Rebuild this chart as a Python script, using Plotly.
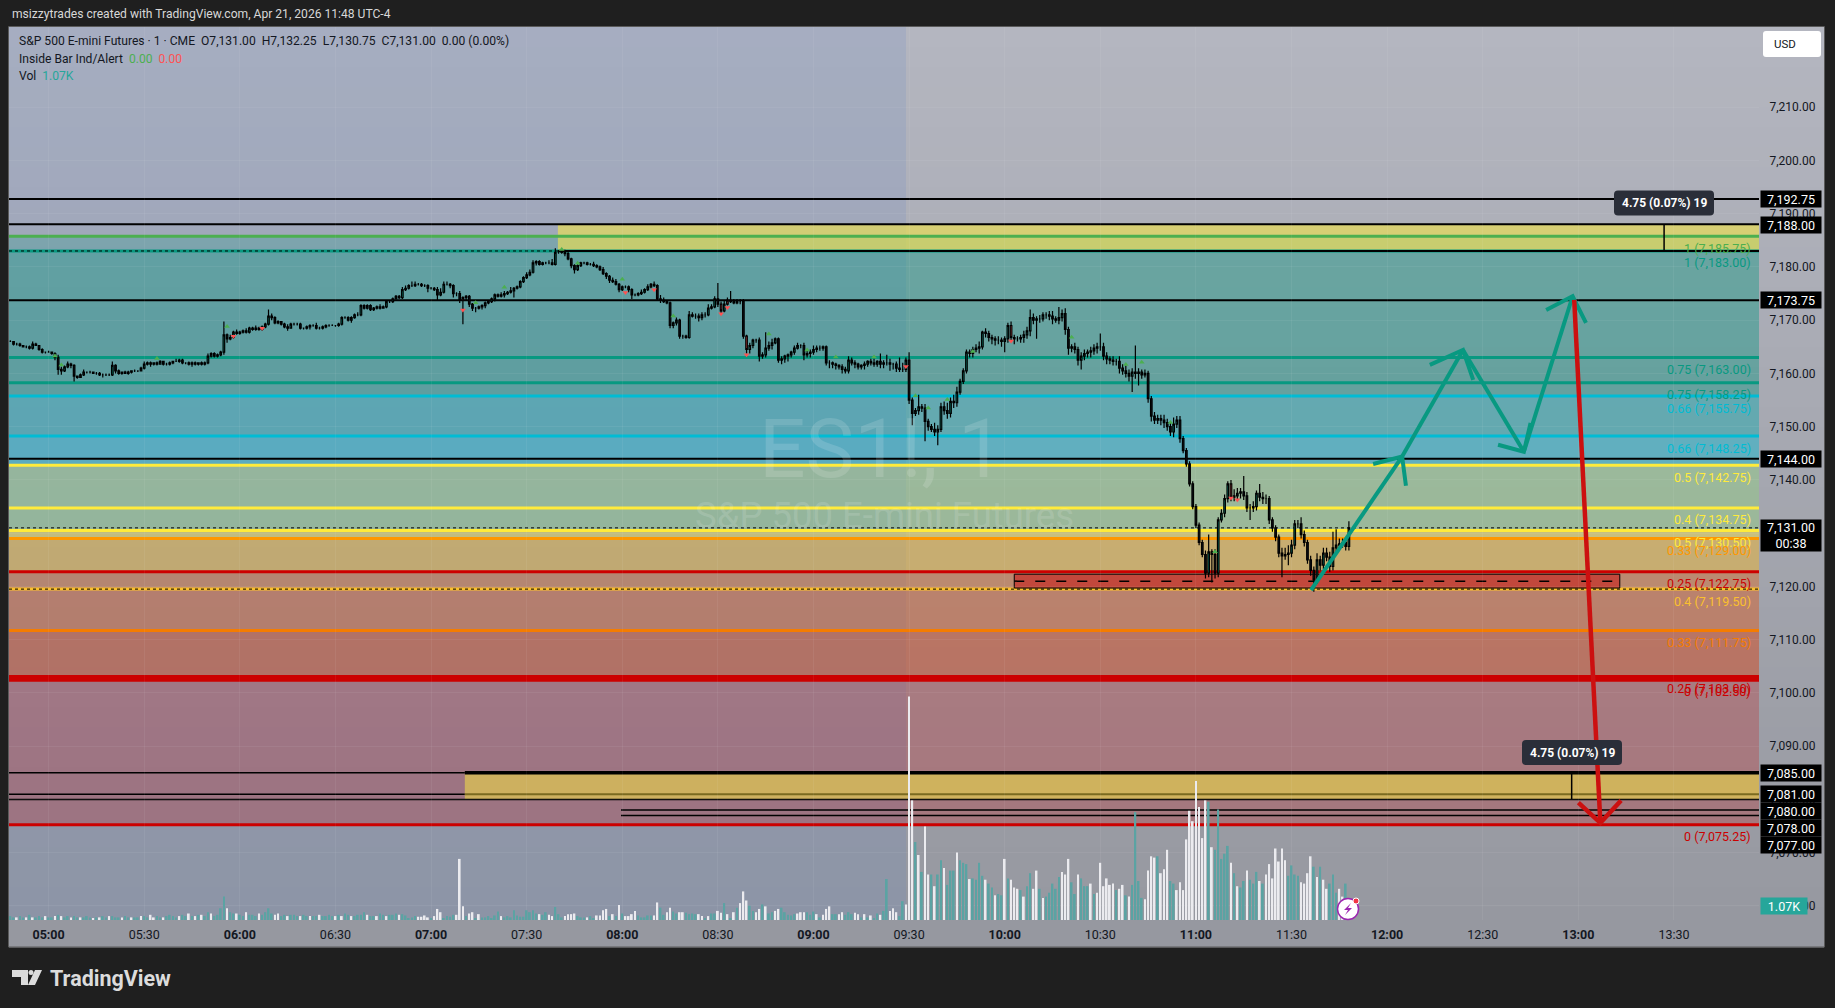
import plotly.graph_objects as go

W = 1835
H = 1008
FONT = "Roboto"
INK = "#131722"

# one bar per minute, first bar is 04:48, prices stored as price - 7100
FIRST_MINUTE = 288
closes_7100 = [
    66.0, 65.5, 65.5, 65.25, 65.0, 65.0, 64.75, 65.5, 65.25, 64.5,
    64.0, 64.0, 64.0, 63.75, 63.0, 60.75, 60.5, 61.25, 61.75, 61.5,
    59.5, 59.25, 59.75, 60.25, 60.25, 60.25, 60.0, 60.0, 59.75, 59.75,
    59.75, 59.75, 61.5, 60.5, 60.0, 60.25, 60.0, 60.25, 60.5, 60.5,
    60.5, 61.0, 61.75, 62.0, 61.75, 62.0, 61.75, 62.25, 61.75, 61.75,
    62.0, 62.25, 62.25, 62.5, 62.0, 62.0, 61.75, 62.0, 61.75, 62.0,
    61.75, 62.0, 63.25, 63.75, 63.25, 63.5, 64.0, 67.25, 66.5, 66.75,
    67.75, 67.5, 67.75, 68.0, 67.75, 68.5, 68.25, 68.5, 68.25, 68.75,
    69.25, 70.75, 70.5, 69.5, 69.75, 69.25, 68.75, 68.5, 69.25, 69.25,
    69.25, 68.5, 68.5, 68.75, 69.0, 69.0, 68.5, 68.5, 68.75, 69.0,
    69.0, 69.0, 69.0, 69.25, 70.5, 70.5, 70.0, 70.5, 71.0, 71.0,
    72.75, 72.25, 72.75, 72.0, 72.25, 72.5, 72.25, 72.5, 73.5, 73.5,
    74.0, 74.5, 74.25, 75.75, 76.0, 76.5, 76.5, 76.75, 76.75, 76.5,
    76.5, 76.0, 76.0, 75.75, 74.75, 75.25, 76.75, 76.75, 76.5, 75.0,
    75.0, 73.75, 74.25, 74.5, 73.0, 72.25, 72.25, 72.5, 72.75, 73.25,
    73.5, 74.0, 74.75, 74.5, 74.75, 75.0, 75.25, 75.5, 76.0, 76.25,
    77.25, 78.0, 78.5, 79.0, 80.75, 81.0, 80.5, 80.75, 80.75, 80.75,
    80.5, 82.75, 82.75, 83.0, 82.5, 81.5, 80.25, 79.5, 80.25, 80.75,
    80.75, 80.5, 80.5, 80.25, 80.0, 79.5, 78.75, 78.25, 77.5, 77.25,
    76.75, 75.75, 76.25, 76.25, 75.75, 74.75, 74.75, 75.0, 75.25, 75.75,
    76.25, 76.75, 76.5, 74.0, 73.75, 73.5, 73.25, 69.0, 69.5, 70.0,
    67.0, 67.0, 66.75, 71.0, 70.75, 70.75, 70.5, 71.0, 71.0, 72.25,
    72.5, 74.0, 73.0, 71.75, 73.0, 73.75, 73.5, 73.25, 73.5, 73.5,
    67.0, 64.5, 65.25, 66.25, 66.25, 63.25, 63.5, 64.75, 65.25, 65.75,
    66.5, 62.5, 62.75, 63.25, 63.5, 64.0, 64.75, 65.25, 65.25, 63.5,
    63.75, 64.0, 64.5, 64.75, 64.75, 65.0, 62.0, 62.0, 61.75, 61.5,
    61.25, 60.75, 60.5, 62.5, 62.0, 61.75, 61.25, 61.5, 61.75, 62.25,
    62.0, 61.75, 62.25, 61.75, 62.0, 62.0, 61.75, 61.75, 61.0, 60.75,
    60.75, 62.5, 55.0, 52.5, 53.0, 53.75, 53.5, 51.0, 50.0, 49.5,
    49.0, 49.5, 53.75, 53.0, 52.5, 54.75, 54.5, 56.5, 58.5, 60.5,
    64.0, 63.75, 64.5, 64.75, 65.0, 67.75, 67.5, 66.75, 66.5, 66.25,
    66.25, 66.0, 66.5, 69.0, 66.75, 66.5, 66.5, 66.75, 67.25, 68.0,
    70.5, 70.0, 70.25, 70.25, 71.0, 71.0, 70.75, 70.25, 70.0, 70.5,
    71.25, 68.25, 64.75, 65.0, 64.5, 62.5, 63.25, 63.75, 64.0, 64.25,
    64.75, 65.0, 65.0, 63.25, 62.75, 62.5, 62.25, 62.25, 61.0, 60.5,
    60.0, 59.5, 60.25, 60.0, 60.25, 59.75, 60.0, 55.25, 52.0, 51.25,
    51.5, 51.25, 50.75, 50.0, 49.0, 50.5, 51.25, 47.75, 45.5, 43.0,
    39.25, 35.0, 31.5, 28.25, 26.0, 22.5, 26.5, 26.0, 22.5, 32.5,
    33.75, 36.5, 39.25, 36.75, 37.0, 37.5, 37.75, 37.0, 34.75, 34.75,
    35.0, 37.5, 36.75, 36.5, 36.5, 32.5, 31.0, 29.25, 26.25, 25.75,
    26.0, 26.25, 27.75, 31.75, 31.75, 29.75, 28.25, 25.0, 23.0, 21.25,
    25.0, 24.0, 26.25, 25.5, 23.75, 27.25, 27.75, 28.0, 28.25, 27.5, 31.0,
]
# wick lengths above and below the body, in ticks of 0.25
upper_ticks = [
    1, 0, 1, 1, 0, 1, 1, 2, 1, 0, 1, 0, 1, 0, 1, 2, 2, 1, 2, 1,
    1, 0, 1, 2, 0, 1, 0, 1, 1, 1, 1, 1, 3, 1, 1, 0, 1, 1, 0, 1,
    0, 1, 2, 1, 1, 0, 1, 1, 0, 1, 1, 0, 2, 1, 1, 0, 1, 1, 1, 0,
    1, 1, 2, 1, 1, 1, 1, 10, 1, 2, 1, 2, 1, 1, 2, 1, 1, 2, 1, 1,
    1, 5, 2, 1, 1, 0, 1, 2, 1, 1, 1, 1, 0, 1, 1, 1, 2, 1, 1, 1,
    1, 1, 0, 1, 1, 1, 1, 1, 1, 2, 1, 1, 1, 1, 1, 1, 2, 1, 1, 1,
    1, 1, 1, 2, 2, 1, 3, 2, 1, 1, 1, 1, 1, 1, 2, 3, 2, 2, 1, 1,
    1, 2, 1, 1, 1, 1, 1, 1, 1, 1, 1, 1, 1, 1, 2, 2, 1, 3, 1, 1,
    1, 1, 2, 2, 2, 1, 1, 1, 1, 2, 3, 3, 1, 1, 1, 2, 1, 1, 1, 1,
    1, 1, 1, 2, 1, 1, 2, 1, 1, 2, 2, 1, 1, 1, 1, 1, 1, 1, 2, 1,
    2, 1, 2, 1, 3, 2, 1, 1, 1, 2, 1, 1, 1, 3, 2, 2, 2, 2, 2, 3,
    2, 2, 12, 2, 3, 2, 7, 2, 2, 2, 2, 1, 2, 1, 1, 2, 2, 12, 3, 3,
    1, 1, 2, 1, 1, 1, 2, 2, 1, 2, 2, 2, 3, 2, 2, 1, 1, 2, 1, 1,
    1, 2, 2, 3, 2, 2, 1, 1, 2, 1, 2, 3, 1, 6, 2, 6, 3, 1, 2, 8,
    5, 2, 6, 2, 2, 9, 2, 3, 2, 2, 5, 3, 3, 4, 6, 3, 5, 4, 2, 2,
    2, 2, 2, 3, 4, 1, 3, 2, 2, 2, 3, 2, 2, 2, 3, 2, 2, 2, 3, 3,
    6, 3, 2, 3, 2, 2, 3, 4, 2, 8, 3, 4, 2, 2, 3, 2, 3, 3, 2, 3,
    3, 3, 10, 3, 3, 2, 3, 2, 4, 3, 4, 3, 3, 20, 3, 2, 3, 2, 2, 3,
    3, 3, 4, 3, 3, 5, 3, 3, 2, 2, 2, 2, 2, 2, 2, 3, 13, 2, 4, 2,
    3, 3, 2, 3, 5, 4, 3, 12, 3, 3, 4, 2, 7, 4, 3, 2, 2, 2, 2, 4,
    5, 6, 4, 3, 3, 5, 3, 2, 3, 3, 5, 3, 4, 4, 4, 12, 12, 4, 3, 3, 5,
]
lower_ticks = [
    0, 1, 1, 1, 0, 1, 1, 1, 0, 1, 1, 1, 0, 1, 2, 4, 3, 1, 1, 2,
    4, 1, 0, 1, 1, 1, 0, 1, 1, 2, 1, 1, 1, 2, 1, 1, 0, 1, 1, 1,
    1, 0, 1, 1, 2, 1, 1, 0, 1, 1, 1, 1, 0, 1, 1, 1, 1, 2, 1, 1,
    1, 1, 1, 1, 1, 1, 1, 2, 3, 1, 1, 1, 1, 1, 1, 1, 1, 1, 1, 1,
    1, 1, 2, 1, 1, 1, 1, 2, 0, 1, 1, 1, 1, 1, 2, 1, 1, 1, 1, 1,
    1, 0, 1, 1, 1, 1, 1, 2, 1, 1, 1, 1, 1, 1, 1, 1, 1, 0, 1, 1,
    1, 0, 1, 1, 1, 1, 1, 1, 1, 1, 1, 3, 1, 1, 4, 1, 1, 1, 2, 3,
    2, 2, 18, 2, 2, 2, 3, 1, 2, 2, 1, 1, 2, 1, 1, 2, 1, 1, 5, 1,
    1, 1, 1, 1, 1, 2, 1, 1, 1, 1, 1, 1, 1, 1, 2, 1, 2, 3, 1, 1,
    1, 1, 1, 1, 1, 1, 1, 2, 2, 1, 1, 2, 1, 1, 2, 3, 1, 1, 1, 1,
    1, 1, 1, 1, 2, 1, 1, 2, 2, 2, 2, 2, 1, 1, 1, 2, 3, 2, 2, 1,
    1, 1, 2, 2, 1, 1, 1, 1, 1, 2, 2, 3, 3, 2, 2, 4, 2, 2, 2, 3,
    1, 2, 3, 3, 4, 2, 2, 1, 2, 4, 2, 3, 2, 2, 2, 2, 2, 4, 3, 3,
    2, 3, 2, 2, 2, 3, 2, 2, 3, 2, 2, 2, 2, 3, 3, 2, 5, 4, 3, 2,
    2, 2, 3, 9, 2, 3, 3, 15, 3, 2, 3, 10, 2, 3, 4, 3, 4, 3, 2, 2,
    2, 3, 3, 2, 4, 2, 3, 3, 4, 4, 3, 4, 8, 3, 3, 4, 2, 3, 4, 3,
    4, 3, 14, 3, 2, 3, 3, 4, 2, 3, 3, 4, 5, 3, 3, 4, 7, 3, 3, 4,
    3, 4, 3, 3, 4, 3, 3, 3, 4, 3, 3, 4, 12, 4, 9, 3, 2, 3, 4, 3,
    3, 4, 4, 3, 3, 4, 3, 3, 2, 2, 2, 2, 2, 2, 2, 4, 3, 21, 4, 3,
    2, 3, 3, 3, 3, 3, 4, 3, 3, 9, 3, 3, 3, 4, 4, 3, 3, 3, 3, 16,
    3, 8, 3, 3, 3, 3, 3, 3, 4, 9, 3, 4, 3, 3, 4, 3, 3, 4, 3, 3, 3,
]
# volume in thousands, one per bar
volume_k = [
    .3, .2, .2, .3, .2, .2, .4, .2, .2, .3,
    .2, .3, .2, .2, .3, .4, .3, .2, .3, .2,
    .3, .2, .2, .2, .3, .2, .1, .2, .2, .3,
    .2, .3, .3, .2, .2, .2, .3, .2, .2, .2,
    .2, .3, .3, .2, .4, .2, .3, .2, .2, .3,
    .4, .3, .2, .3, .4, .3, .5, .3, .3, .4,
    .4, .3, .6, .5, .3, .4, .9, 1.8, .9, .6,
    .5, .5, .4, .3, .6, .4, .4, .3, .5, .4,
    .6, .9, .5, .4, .5, .3, .4, .3, .4, .4,
    .3, .3, .4, .3, .3, .3, .3, .4, .3, .3,
    .4, .3, .3, .4, .3, .5, .4, .3, .3, .4,
    .4, .6, .4, .3, .3, .3, .5, .4, .3, .4,
    .4, .5, .4, .45, .35, .15, .2, .3, .25, .25,
    .35, .2, .1, .3, .85, .6, .1, .3, .25, .4,
    .4, 4.7, 1.05, .3, .5, .6, .1, .45, .2, .2,
    .3, .1, .35, .65, .3, .2, .3, .2, .75, .35,
    .25, .25, .75, .6, .75, .5, .45, .4, .6, .4,
    .3, 1.0, .45, .2, .3, .45, .45, .5, .3, .2,
    .2, .2, .3, .15, .35, .35, .75, .85, .3, .45,
    .3, 1.15, .5, .3, .3, .45, .7, .35, .2, .2,
    .35, .35, .35, 1.35, .95, .4, .6, .95, .65, .5,
    .6, .6, .55, .45, .5, .45, .45, .3, .1, .3,
    .5, .5, .7, .55, 1.3, .45, .15, .6, .95, 1.3,
    2.2, 1.5, 1.1, .7, .6, .85, 1.2, 1.05, .5, .6,
    .7, .85, .95, .6, .4, .35, .45, .5, .6, .6,
    .6, .4, .65, .45, .2, .4, .85, 1.05, .45, .45,
    .45, .6, .4, .6, .45, .55, .45, .2, .45, .2,
    .35, .1, .5, .4, .7, 3.15, .7, .9, .6, .3,
    1.45, 1.2, 17.2, 9.2, 6.0, 5.0, 3.7, 7.2, 3.5, 3.5,
    2.6, 3.5, 4.6, 4.0, 2.7, 3.8, 3.8, 5.2, 4.6, 4.4,
    4.3, 3.15, 3.2, 3.1, 4.4, 3.4, 3.1, 2.8, 2.5, 1.9,
    2.0, 1.9, 4.7, 3.2, 3.1, 2.5, 2.4, 2.3, 1.8, 2.6,
    3.6, 2.4, 3.8, 2.4, 1.7, 1.8, 2.1, 2.8, 2.4, 3.3,
    3.7, 3.5, 4.7, 2.9, 2.0, 3.5, 3.2, 2.6, 2.6, 2.8,
    2.0, 2.1, 4.4, 2.6, 3.2, 2.7, 2.8, 2.3, 2.4, 2.7,
    1.9, 1.8, 2.7, 8.3, 3.0, 1.7, 1.6, 3.8, 4.9, 4.8,
    4.9, 3.6, 3.9, 5.4, 3.0, 2.8, 2.3, 2.9, 2.3, 6.2,
    8.4, 7.6, 10.7, 8.7, 6.3, 9.2, 9.1, 5.6, 5.4, 8.5,
    4.7, 5.1, 5.7, 4.4, 3.6, 2.6, 2.5, 3.0, 3.8, 3.1,
    2.8, 3.7, 3.0, 2.8, 3.5, 4.3, 3.2, 5.5, 4.5, 5.5,
    4.6, 3.4, 4.2, 3.5, 3.4, 2.9, 2.8, 3.6, 4.9, 4.1,
    3.3, 4.1, 3.1, 2.4, 2.8, 3.5, 2.1, 2.4, 1.8, 2.8, 1.07,
]
# t = up (teal), w = down (white), ten bars per chunk
volume_dirs = (
    "ttwttwtwtt" "twttwtwttw" "ttwtttwtwt" "twtttwttwt" "twttwwttwt"
    "tttwttwtwt" "wttwttttwt" "twttwtttwt" "tttwwttwtt" "twttwttwtt"
    "ttwtwttwtt" "ttwttwttwt" "ttwtttttww" "wwtwwwtttt" "wwwtwwtwtt"
    "ttttwttttt" "ttttttwttw" "wtttwwwwtt" "twttwwwwtw" "twtwwwwttt"
    "ttwwttwwtt" "wwttttwwtw" "ttwwtwtwtw" "wwttwwtwtt" "wwtttttwww"
    "tttwtwwwtt" "wwtttwwtwt" "wttwttwwwt" "twwwtwtwwt" "wttwtttwtt"
    "twttttwttw" "ttwtwwwtwt" "twwtwttttt" "wwwttwtttw" "twwwwwwtww"
    "twttttwwww" "twwwttwwww" "wwwwwwtwtt" "tttwtwttwt" "ttwtwwwwww"
    "wttttwwwwt" "wtwwtttwwtt"
)
red_bars = [142, 202, 223, 225, 231, 314, 383]

green_marks_t = [302, 304, 334, 356, 434, 443, 461, 466, 480, 496, 526, 538, 547, 559, 572, 576, 582, 590, 621, 638, 643, 652, 666]
green_marks_p = [7163.3, 7161.6, 7162.8, 7168.8, 7173.3, 7176.2, 7183.3, 7180.7, 7177.7, 7170.8, 7167.4, 7164.4, 7163.1, 7163.1, 7155.8, 7153.5, 7155.1, 7164.1, 7166.8, 7161.7, 7162.1, 7150.8, 7126.5]
red_marks_t = [358, 367, 430, 481, 490, 511, 513, 519, 569, 602, 671, 673]
red_marks_p = [7167, 7168.5, 7171.9, 7175.2, 7175.7, 7171.2, 7172.4, 7163.5, 7161.3, 7166.1, 7136.6, 7136.3]

TEAL, CYAN, YELLOW, AMBER, ORANGE, DORANGE, RED = "#089981", "#00bcd4", "#ffeb3b", "#fbc02d", "#ff9800", "#f57c00", "#cc0000"
# two fib tools: level text, price, line colour, fill colour down to the next level
fib_ratios = ["1", "0.75", "0.66", "0.5", "0.4", "0.33", "0.25", "0"]
fib_a_prices = [7185.75, 7158.25, 7148.25, 7130.50, 7119.50, 7111.75, 7103.00, 7075.25]
fib_a_colors = ["#4caf50", TEAL, CYAN, YELLOW, AMBER, DORANGE, RED, RED]
fib_a_fills = [TEAL, TEAL, CYAN, YELLOW, AMBER, DORANGE, RED]
fib_b_prices = [7183.00, 7163.00, 7155.75, 7142.75, 7134.75, 7129.00, 7122.75, 7102.50]
fib_b_colors = [TEAL, TEAL, CYAN, YELLOW, YELLOW, ORANGE, RED, RED]
fib_b_fills = [TEAL, TEAL, CYAN, YELLOW, YELLOW, ORANGE, RED]

black_levels = [7192.75, 7173.75, 7144.00]
tick_prices = [7210, 7200, 7190, 7180, 7170, 7160, 7150, 7140, 7130, 7120, 7110, 7100, 7090, 7080, 7070, 7060]
tick_minutes = [300, 330, 360, 390, 420, 450, 480, 510, 540, 570, 600, 630, 660, 690, 720, 750, 780, 810]
tick_labels = ["05:00", "05:30", "06:00", "06:30", "07:00", "07:30", "08:00", "08:30", "09:00", "09:30", "10:00", "10:30", "11:00", "11:30", "12:00", "12:30", "13:00", "13:30"]

# hand drawn arrows, (minute, price) of shaft and barbs
teal_arrow_t = [696.1, 724.7, None, 715.6, 724.7, 725.9, None, 724.7, 743.8, None, 733.4, 743.8, 747, None, 743.8, 762.9, None, 754.8, 762.9, 765, None, 762.9, 778.2, None, 769.9, 778.2, 782.4]
teal_arrow_p = [7119.3, 7144.4, None, 7143, 7144.4, 7138.9, None, 7144.4, 7164.4, None, 7161.6, 7164.4, 7158.8, None, 7164.4, 7145.3, None, 7146.6, 7145.3, 7150.7, None, 7145.3, 7174.5, None, 7171.9, 7174.5, 7169.5]
red_arrow_t = [778.7, 786.9, None, 780, 786.9, 793.4]
red_arrow_p = [7173.8, 7075.6, None, 7079.4, 7075.6, 7079.8]

# pane geometry in page pixels
PANE_L, PANE_R, PANE_T, PANE_B = 9, 1759, 27, 920
X0 = 300 + (PANE_L - 48.6) / 3.187
X1 = 300 + (PANE_R - 48.6) / 3.187
Y_TOP = 7210 + (107.2 - PANE_T) / 5.325
Y_BOT = 7210 - (PANE_B - 107.2) / 5.325
VOL_TOP = (PANE_B - PANE_T) / 13.0
TEXT_RIGHT = 1753
TOP_BOX_START = 459.8
LOW_BOX_START = 430.6
PAIR_START = 479.6
SUPPORT_START, SUPPORT_END = 603, 793


def px(x):
    return x / W


def py(y):
    return 1 - y / H


def rounded(x0, y0, x1, y1, r):
    x0, x1 = px(x0), px(x1)
    rx, ry = r / W, r / H
    y0, y1 = py(y0), py(y1)
    return (f"M{x0 + rx},{y0} L{x1 - rx},{y0} Q{x1},{y0} {x1},{y0 - ry} L{x1},{y1 + ry} Q{x1},{y1} {x1 - rx},{y1} "
            f"L{x0 + rx},{y1} Q{x0},{y1} {x0},{y1 + ry} L{x0},{y0 - ry} Q{x0},{y0} {x0 + rx},{y0} Z")


def polygon(points):
    return "M" + " L".join(f"{px(x)},{py(y)}" for x, y in points) + " Z"


def rgba(hex_color, a):
    return f"rgba({int(hex_color[1:3], 16)},{int(hex_color[3:5], 16)},{int(hex_color[5:7], 16)},{a})"


def label(x, y, text, size=12.1, color=INK, xanchor="left", family=FONT, **kw):
    annotations.append(dict(xref="paper", yref="paper", x=px(x), y=py(y), xanchor=xanchor, yanchor="middle", text=text,
                            showarrow=False, font=dict(family=family, size=size, color=color), **kw))


minutes = [FIRST_MINUTE + i for i in range(len(closes_7100))]
closes = [7100 + c for c in closes_7100]
opens = [closes[0]] + closes[:-1]
highs = [max(o, c) + u * 0.25 for o, c, u in zip(opens, closes, upper_ticks)]
lows = [min(o, c) - d * 0.25 for o, c, d in zip(opens, closes, lower_ticks)]
assert len(closes) == len(upper_ticks) == len(lower_ticks) == len(volume_k) == len(volume_dirs)

shapes = []
annotations = []

# window gradient behind pane and both axis strips
N_SLICES = 46
for s in range(N_SLICES):
    t = s / (N_SLICES - 1)
    col = "rgb(%d,%d,%d)" % (180 - 30 * t, 182 - 30 * t, 192 - 32 * t)
    y0 = 27 + (947 - 27) * s / N_SLICES
    y1 = 27 + (947 - 27) * (s + 1) / N_SLICES
    shapes.append(dict(type="rect", xref="paper", yref="paper", x0=px(9), x1=px(1824), y0=py(y0), y1=py(y1 + 0.5),
                       fillcolor=col, line_width=0, layer="below"))
# pre-market tint
shapes.append(dict(type="rect", xref="paper", yref="paper", x0=px(PANE_L), x1=px(906), y0=py(PANE_T), y1=py(PANE_B),
                   fillcolor="rgba(90,130,200,0.15)", line_width=0, layer="below"))
shapes.append(dict(type="rect", xref="paper", yref="paper", x0=px(8.5), x1=px(1824.5), y0=py(26.5), y1=py(947),
                   line=dict(color="#5a5a5a", width=1), layer="below"))


def hline(price, color, width=3, dash="solid", start=X0, end=X1):
    shapes.append(dict(type="line", xref="x", yref="y", x0=start, x1=end, y0=price, y1=price,
                       line=dict(color=color, width=width, dash=dash), layer="below"))


def box(t0, t1, p0, p1, fill, edge=None):
    shapes.append(dict(type="rect", xref="x", yref="y", x0=t0, x1=t1, y0=p0, y1=p1, fillcolor=fill,
                       line=dict(color=edge or "rgba(0,0,0,0)", width=1), layer="below"))


for prices, fills in ((fib_a_prices, fib_a_fills), (fib_b_prices, fib_b_fills)):
    for hi, lo, col in zip(prices[:-1], prices[1:], fills):
        box(X0, X1, lo, hi, rgba(col, 0.23))

box(LOW_BOX_START, X1, 7080.0, 7085.0, "rgba(225,203,80,0.7)")
box(TOP_BOX_START, X1, 7183.0, 7188.0, "rgba(240,228,75,0.62)")

for prices, colors in ((fib_a_prices, fib_a_colors), (fib_b_prices, fib_b_colors)):
    for price, col in zip(prices, colors):
        hline(price, col, 4 if price in (7103.00, 7102.50) else 3)
    for ratio, price, col in zip(fib_ratios, prices, colors):
        annotations.append(dict(xref="paper", yref="y", x=px(TEXT_RIGHT), y=price, yshift=-12, xanchor="right", yanchor="middle",
                                text=f"{ratio} ({price:,.2f})", showarrow=False,
                                font=dict(family=FONT, size=12.5, color=col)))

hline(7183.00, "#000000", 1, "dot")
hline(7119.50, "#000000", 1, "dot")
hline(7131.00, "#000000", 1, "dot")
for level in black_levels:
    hline(level, "#000000", 2)
hline(7188.00, "#000000", 2)
hline(7183.00, "#000000", 2, start=TOP_BOX_START)
hline(7085.00, "#000000", 1.5, end=LOW_BOX_START)
hline(7085.00, "#000000", 3.5, start=LOW_BOX_START)
hline(7081.00, "#000000", 1.5, end=LOW_BOX_START)
hline(7081.00, "#7a6a20", 2, start=LOW_BOX_START)
hline(7080.00, "#000000", 1.5)
hline(7078.00, "#000000", 1.5, start=PAIR_START)
hline(7077.00, "#000000", 1.5, start=PAIR_START)

# support box with dashed midline
box(SUPPORT_START, SUPPORT_END, 7119.7, 7122.3, "rgba(195,60,50,0.85)", "#000000")
hline(7121.0, "#000000", 1.5, "10px,11px", start=SUPPORT_START, end=SUPPORT_END)

# measure ticks
for t, p0, p1 in ((806.9, 7183, 7188), (777.9, 7080, 7085)):
    shapes.append(dict(type="line", xref="x", yref="y", x0=t, x1=t, y0=p0, y1=p1,
                       line=dict(color="#000000", width=1.5), layer="below"))

fig = go.Figure()
fig.add_trace(go.Scatter(x=teal_arrow_t, y=teal_arrow_p, mode="lines", line=dict(color=TEAL, width=4), hoverinfo="skip", showlegend=False))
fig.add_trace(go.Scatter(x=red_arrow_t, y=red_arrow_p, mode="lines", line=dict(color="#cc1010", width=4.5), hoverinfo="skip", showlegend=False))

keep = [i for i in range(len(minutes)) if i not in red_bars]
for idx, up_fill, down_fill in ((keep, TEAL, "#131722"), (red_bars, "#ff5252", "#ff5252")):
    fig.add_trace(go.Candlestick(
        x=[minutes[i] for i in idx],
        open=[opens[i] for i in idx],
        high=[highs[i] for i in idx],
        low=[lows[i] for i in idx],
        close=[closes[i] for i in idx],
        increasing=dict(fillcolor=up_fill, line=dict(color="#000000", width=1.2)),
        decreasing=dict(fillcolor=down_fill, line=dict(color="#000000", width=1.2)),
        whiskerwidth=0,
        hoverinfo="skip",
        showlegend=False,
    ))
fig.add_trace(go.Scatter(x=green_marks_t, y=green_marks_p, mode="markers", marker=dict(symbol="triangle-up", size=5, color="#4caf50"), hoverinfo="skip", showlegend=False))
fig.add_trace(go.Scatter(x=red_marks_t, y=red_marks_p, mode="markers", marker=dict(symbol="triangle-down", size=5, color="#ff5252"), hoverinfo="skip", showlegend=False))
fig.add_trace(go.Bar(
    x=minutes,
    y=volume_k,
    yaxis="y2",
    width=0.55,
    marker=dict(color=["#5ba3a3" if d == "t" else "#ebebef" for d in volume_dirs], line_width=0),
    hoverinfo="skip",
    showlegend=False,
))


def tag(y, text, height=16, width=60, bg="#000000", color="#ffffff"):
    annotations.append(dict(xref="paper", yref="paper", x=px(1760), y=py(y), xanchor="left", yanchor="middle",
                            width=width, height=height, bgcolor=bg, align="center", valign="middle", text=text,
                            showarrow=False, borderpad=0, font=dict(family=FONT, size=12.5, color=color)))


for y, text in ((199.5, "7,192.75"), (225, "7,188.00"), (300, "7,173.75"), (459, "7,144.00"), (772.7, "7,085.00"),
                (793.5, "7,081.00"), (810.5, "7,080.00"), (827.5, "7,078.00"), (844.5, "7,077.00")):
    tag(y, text)
tag(535.5, "7,131.00<br>00:38", height=31)
tag(906, "1.07K", width=46, bg="#26a69a")

# measure bubbles
for cx, cy in ((1664, 203), (1572, 752.5)):
    shapes.append(dict(type="path", xref="paper", yref="paper", path=rounded(cx - 50, cy - 12.5, cx + 50, cy + 12.5, 4),
                       fillcolor="#2a2e39", line_width=0, layer="above"))
    label(cx, cy, "<b>4.75 (0.07%) 19</b>", size=12, color="#ffffff", xanchor="center")

# currency button
shapes.append(dict(type="path", xref="paper", yref="paper", path=rounded(1763, 31, 1821, 57, 3), fillcolor="#ffffff", line_width=0, layer="below"))
label(1772, 44, "USD", size=11.5)

# watermark
label(881, 449, "ES1!, 1", size=82, color="rgba(255,255,255,0.14)", xanchor="center")
label(884, 515, "S&amp;P 500 E-mini Futures", size=36.5, color="rgba(255,255,255,0.14)", xanchor="center")

# legend block
label(17, 41, "S&amp;P 500 E-mini Futures · 1 · CME &nbsp;O7,131.00 &nbsp;H7,132.25 &nbsp;L7,130.75 &nbsp;C7,131.00 &nbsp;0.00 (0.00%)")
label(17, 59, 'Inside Bar Ind/Alert &nbsp;<span style="color:#4caf50">0.00</span> &nbsp;<span style="color:#ff5252">0.00</span>')
label(17, 76, 'Vol &nbsp;<span style="color:#26a69a">1.07K</span>')

# header and footer
label(10, 14.5, "msizzytrades created with TradingView.com, Apr 21, 2026 11:48 UTC-4", color="#d8d8d8")
label(48, 978, "<b>TradingView</b>", size=21.5, color="#dcdcdc")
for pts in (
    [(12, 970), (28, 970), (28, 985), (21, 985), (21, 977), (12, 977)],
    [(35, 970), (42, 970), (35, 985), (28, 985)],
):
    shapes.append(dict(type="path", xref="paper", yref="paper", path=polygon(pts), fillcolor="#dcdcdc", line_width=0, layer="below"))
shapes.append(dict(type="circle", xref="paper", yref="paper", x0=px(28.5), x1=px(33.5), y0=py(970), y1=py(975), fillcolor="#dcdcdc", line_width=0, layer="below"))

# alert badge
shapes.append(dict(type="circle", xref="paper", yref="paper", x0=px(1337.5), x1=px(1358.5), y0=py(898.5), y1=py(919.5),
                   fillcolor="#ffffff", line=dict(color="#9c27b0", width=1.5), layer="above"))
shapes.append(dict(type="path", xref="paper", yref="paper", layer="above", fillcolor="#9c27b0", line_width=0,
                   path=polygon([(1351, 903), (1344, 910), (1348, 910), (1345, 915), (1352, 908), (1348, 908)])))
shapes.append(dict(type="circle", xref="paper", yref="paper", x0=px(1353), x1=px(1359), y0=py(898), y1=py(904),
                   fillcolor="#f23645", line=dict(color="#ffffff", width=1), layer="above"))

fig.update_layout(
    width=W,
    height=H,
    margin=dict(l=0, r=0, t=0, b=0),
    paper_bgcolor="#1f1f1f",
    plot_bgcolor="rgba(0,0,0,0)",
    font=dict(family=FONT, size=12.5, color=INK),
    shapes=shapes,
    annotations=annotations,
    barmode="overlay",
    showlegend=False,
    xaxis=dict(
        domain=[px(PANE_L), px(PANE_R)],
        range=[X0, X1],
        rangeslider=dict(visible=False),
        tickmode="array",
        tickvals=tick_minutes,
        ticktext=[f"<b>{lab}</b>" if lab.endswith("00") else lab for lab in tick_labels],
        tickfont=dict(family=FONT, size=12.5, color=INK),
        ticks="outside",
        ticklen=3,
        tickcolor="rgba(0,0,0,0)",
        showgrid=True,
        gridcolor="rgba(255,255,255,0.06)",
        zeroline=False,
        showline=False,
        anchor="y",
    ),
    yaxis=dict(
        domain=[py(PANE_B), py(PANE_T)],
        range=[Y_BOT, Y_TOP],
        side="right",
        tickmode="array",
        tickvals=tick_prices,
        ticktext=[f"{p:,.2f}" for p in tick_prices],
        tickfont=dict(family=FONT, size=12, color=INK),
        ticks="outside",
        ticklen=7,
        tickcolor="rgba(0,0,0,0)",
        showgrid=True,
        gridcolor="rgba(255,255,255,0.06)",
        zeroline=False,
        showline=False,
        anchor="x",
    ),
    yaxis2=dict(
        domain=[py(PANE_B), py(PANE_T)],
        range=[0, VOL_TOP],
        overlaying="y",
        side="left",
        visible=False,
    ),
)

fig.write_html("out.html", config={"displayModeBar": False},
               post_script="document.body.style.margin='0';document.body.style.overflow='hidden';")
